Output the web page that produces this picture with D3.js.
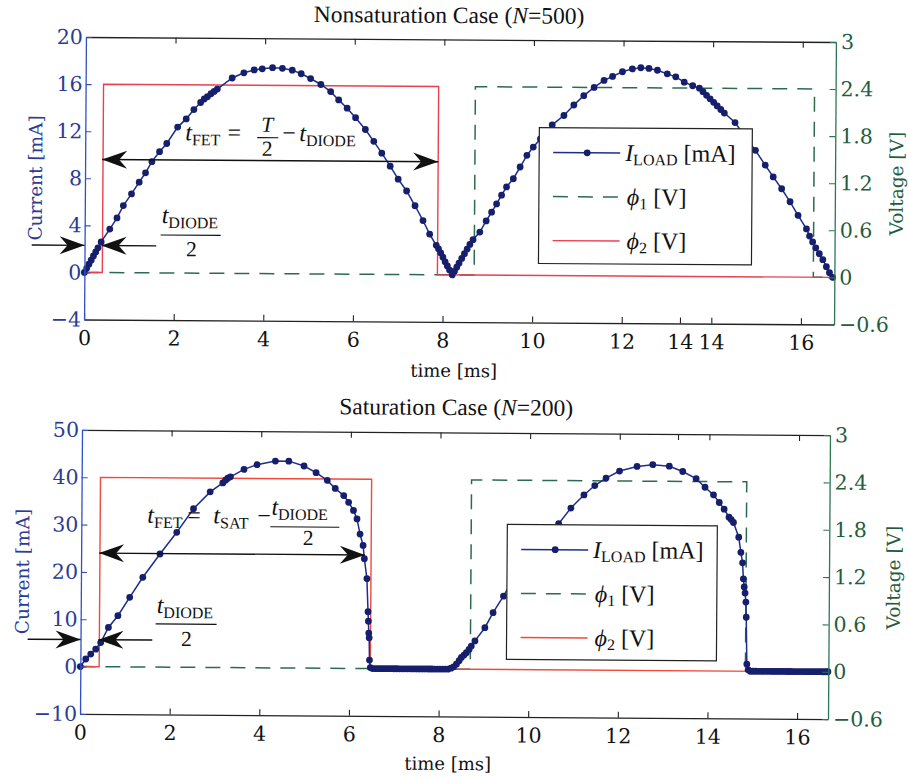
<!DOCTYPE html>
<html>
<head>
<meta charset="utf-8">
<script src="https://cdn.jsdelivr.net/npm/d3@7"></script>
<style>
  body { margin: 0; background: #fff; }
  text { font-family: "Liberation Serif", "Times New Roman", serif; }
  .cent { font-family: "DejaVu Serif", serif; }
</style>
</head>
<body>
<svg id="fig" width="909" height="778"></svg>
<script>
// ---- data ----
// Nonsaturation case (N=500): [time ms, current mA]
var nonsatLoad = [
  [0,0],[0.05,0.35],[0.1,0.7],[0.15,1.05],[0.2,1.4],[0.25,1.75],[0.3,2.1],[0.37,2.6],
  [0.56,3.7],[0.72,4.65],[0.86,5.7],[1.04,6.7],[1.21,7.7],[1.35,8.5],[1.49,9.45],
  [1.66,10.3],[1.82,11.0],[2.06,12.4],[2.25,13.1],[2.42,13.9],[2.57,14.5],[2.65,14.8],
  [2.72,15.0],[2.8,15.25],[2.87,15.45],[2.94,15.65],[3.27,16.6],[3.53,17.05],[3.76,17.3],
  [3.94,17.4],[4.17,17.5],[4.39,17.45],[4.61,17.3],[4.81,17.0],[5.02,16.6],[5.25,16.1],
  [5.47,15.5],[5.65,14.8],[5.84,14.1],[6.03,13.3],[6.25,12.3],[6.44,11.3],[6.62,10.3],
  [6.81,9.2],[6.99,8.1],[7.18,7.1],[7.37,5.85],[7.55,4.6],[7.7,3.45],[7.85,2.5],
  [7.9,2.2],[7.95,1.85],[8.0,1.5],[8.05,1.1],[8.1,0.75],[8.15,0.4],[8.21,0],
  [8.26,0.3],[8.31,0.65],[8.36,1.0],[8.42,1.4],[8.48,1.8],[8.54,2.2],[8.6,2.6],[8.67,3.0],
  [8.82,3.65],[8.96,4.6],[9.08,5.35],[9.19,6.05],[9.3,6.8],[9.41,7.5],[9.56,8.2],
  [9.71,9.2],[9.86,10.2],[10.0,10.9],[10.16,11.6],[10.42,12.8],[10.68,13.6],[10.9,14.5],
  [11.12,15.3],[11.35,16.0],[11.57,16.6],[11.76,16.95],[11.98,17.35],[12.2,17.6],
  [12.39,17.7],[12.57,17.65],[12.76,17.5],[12.98,17.2],[13.17,16.95],[13.36,16.5],
  [13.55,16.2],[13.7,16.0],[13.78,15.7],[13.86,15.4],[13.94,15.1],[14.02,14.8],[14.1,14.5],
  [14.18,14.2],[14.26,13.9],[14.5,13.1],[14.73,11.9],[14.96,10.75],[15.18,9.5],[15.36,8.5],
  [15.55,7.5],[15.74,6.4],[15.92,5.25],[16.11,4.1],[16.18,3.5],[16.25,3.0],[16.32,2.5],
  [16.4,2.0],[16.48,1.5],[16.56,0.9],[16.63,0.4],[16.7,0]
];
// [time ms, volts]
var nonsatPhi1 = [[0,0],[8.7,0],[8.7,2.4],[16.27,2.4],[16.27,0],[16.74,0]];
var nonsatPhi2 = [[0,0],[0.4,0],[0.4,2.4],[7.88,2.4],[7.88,0],[16.74,0]];

// Saturation case (N=200)
var satLoad = [
  [0,0],[0.12,1.6],[0.23,2.65],[0.34,3.7],[0.45,5.1],[0.62,8.3],[0.83,10.8],[1.09,14.7],
  [1.38,18.95],[1.76,23.9],[2.13,28.5],[2.5,33.5],[2.87,37.1],[3.15,39.0],[3.21,39.6],
  [3.26,40.0],[3.32,40.3],[3.62,41.9],[3.91,42.9],[4.32,43.7],[4.62,43.7],[4.96,42.7],
  [5.23,41.3],[5.48,39.7],[5.66,38.0],[5.85,36.5],[5.96,35.1],[6.07,33.4],[6.15,31.6],
  [6.22,28.4],[6.29,26.0],[6.32,23.2],[6.38,19],[6.41,12],[6.42,10],[6.43,7.5],[6.44,6.5],
  [6.45,1.8],[6.47,0.2],[6.52,0],[6.58,0],[6.64,0],[6.7,0],[6.76,0],[6.82,0],[6.88,0],
  [6.94,0],[7.0,0],[7.06,0],[7.12,0],[7.18,0],[7.24,0],[7.3,0],[7.36,0],[7.42,0],[7.48,0],
  [7.54,0],[7.6,0],[7.66,0],[7.72,0],[7.78,0],[7.84,0],[7.9,0],[7.96,0],[8.02,0],[8.08,0],
  [8.14,0],[8.2,0],[8.27,0.2],[8.33,0.5],[8.39,1.06],[8.45,1.8],[8.5,2.5],[8.56,3.0],
  [8.61,3.5],[8.67,4.2],[8.72,4.9],[8.8,6.0],[9.02,8.8],[9.2,12],[9.43,15.5],[9.7,20],
  [9.95,24],[10.3,28],[10.65,30.9],[10.92,34.2],[11.21,37.0],[11.45,39],[11.7,40.6],
  [12.0,42.1],[12.39,43.1],[12.74,43.5],[13.11,43.2],[13.41,42.1],[13.71,40.6],[13.91,38.8],
  [14.1,37.2],[14.23,35.6],[14.34,34.2],[14.45,32.5],[14.5,32],[14.55,31.4],[14.67,28.3],
  [14.72,25.1],[14.76,22.9],[14.78,19.5],[14.8,17.8],[14.82,16.5],[14.84,14.6],[14.85,11.4],
  [14.87,1.5],[14.9,0.3],[14.95,0],[15.01,0],[15.07,0],[15.13,0],[15.19,0],[15.25,0],
  [15.31,0],[15.37,0],[15.43,0],[15.49,0],[15.55,0],[15.61,0],[15.67,0],[15.73,0],
  [15.79,0],[15.85,0],[15.91,0],[15.97,0],[16.03,0],[16.09,0],[16.15,0],[16.21,0],
  [16.27,0],[16.33,0],[16.39,0],[16.45,0],[16.51,0],[16.57,0],[16.63,0],[16.68,0]
];
var satPhi1 = [[0,0],[8.7,0],[8.7,2.4],[14.84,2.4],[14.84,0],[16.69,0]];
var satPhi2 = [[0,0],[0.42,0],[0.42,2.4],[6.47,2.4],[6.47,0],[16.69,0]];

// ticks
var nonsatTimeTicks = [0,2,4,6,8,10,12,13.3,14,16];
var nonsatTimeLabels = ["0","2","4","6","8","10","12","14","14","16"];
var nonsatTopTicks = [2,4,6,8,10,12,14,16];
var satTimeTicks = [0,2,4,6,8,10,12,14,16];
var satTimeLabels = ["0","2","4","6","8","10","12","14","16"];
var satTopTicks = [2,4,6,8,10,12,13.3,14,16];
var nonsatCurrentTicks = [-4,0,4,8,12,16,20];
var satCurrentTicks = [-10,0,10,20,30,40,50];
var voltageTicks = [-0.6,0,0.6,1.2,1.8,2.4,3];

// ---- styles ----
var BLUE_TEXT = "#2b3c96", BLUE_AXIS = "#3150c4";
var GREEN_TEXT = "#1f5d40", GREEN_AXIS = "#2d7656";
var LOAD_LINE = "#1d2d8c", LOAD_DOT = "#161f6c";
var PHI1 = "#2c6b50";

var svg = d3.select("#fig");
var numFmt = d3.format("");

function arrowHead(g, tx, ty, dir) {
  var L = 25, W = 9, N = 17;
  var pts = [[tx, ty], [tx - dir * L, ty - W], [tx - dir * N, ty], [tx - dir * L, ty + W]];
  g.append("path").attr("d", "M" + pts.join("L") + "Z").attr("fill", "#111");
}

// numerator over denominator as one text element, with a bar
function fraction(g, cx, numY, denY, barX1, barX2, barY, num, sub, den) {
  var t = g.append("text").attr("font-size", 21.5).attr("fill", "#111");
  if (sub) {
    t.append("tspan").attr("x", barX1 + 1).attr("y", numY).attr("font-size", 24)
      .attr("font-style", "italic").text(num);
    t.append("tspan").attr("font-size", 16).attr("dy", 5).text(sub);
  } else {
    t.append("tspan").attr("x", cx).attr("y", numY).attr("text-anchor", "middle")
      .attr("font-style", "italic").text(num);
  }
  t.append("tspan").attr("x", cx).attr("y", denY).attr("text-anchor", "middle").text(den);
  g.append("line").attr("x1", barX1).attr("x2", barX2).attr("y1", barY).attr("y2", barY)
    .attr("stroke", "#111").attr("stroke-width", 1.1);
}

function drawPanel(p) {
  var cx = (p.left + p.right) / 2, cy = (p.top + p.bottom) / 2;
  var g = svg.append("g").attr("transform", "rotate(" + p.angle + "," + cx + "," + cy + ")");

  var x = d3.scaleLinear().domain(p.xDomain).range([p.left, p.right]);
  var yI = d3.scaleLinear().domain(p.iDomain).range([p.bottom, p.top]);
  var yV = d3.scaleLinear().domain([-0.6, 3]).range([p.bottom, p.top]);

  // title
  var title = g.append("text").attr("x", p.titleX).attr("y", p.titleY)
    .attr("text-anchor", "middle").attr("font-size", 23.5).attr("fill", "#111");
  title.append("tspan").text(p.titleA);
  title.append("tspan").attr("font-style", "italic").text("N");
  title.append("tspan").text(p.titleB);

  // voltage traces
  var vLine = d3.line().x(function(d){ return x(d[0]); }).y(function(d){ return yV(d[1]); });
  g.append("path").datum(p.phi1).attr("d", vLine).attr("fill", "none")
    .attr("stroke", PHI1).attr("stroke-width", 1.5).attr("stroke-dasharray", "15,10");
  g.append("path").datum(p.phi2).attr("d", vLine).attr("fill", "none")
    .attr("stroke", p.red).attr("stroke-width", 1.4);

  // load current
  var iLine = d3.line().x(function(d){ return x(d[0]); }).y(function(d){ return yI(d[1]); });
  g.append("path").datum(p.load).attr("d", iLine).attr("fill", "none")
    .attr("stroke", LOAD_LINE).attr("stroke-width", 1.5);
  g.append("g").selectAll("circle").data(p.load).join("circle")
    .attr("cx", function(d){ return x(d[0]); })
    .attr("cy", function(d){ return yI(d[1]); })
    .attr("r", 3.4).attr("fill", LOAD_DOT);

  // axes
  function styleAxis(sel, col, lineCol) {
    sel.attr("font-family", null).attr("font-size", 20.5);
    sel.select(".domain").attr("stroke", lineCol).attr("stroke-width", 1.3);
    sel.selectAll(".tick line").attr("stroke", lineCol).attr("stroke-width", 1.1);
    sel.selectAll(".tick text").attr("fill", col).attr("class", "cent");
  }
  var bottomAx = g.append("g").attr("transform", "translate(0," + p.bottom + ")")
    .call(d3.axisBottom(x).tickValues(p.xTicks)
      .tickFormat(function(d, i){ return p.xLabels[i]; })
      .tickSizeInner(-6).tickSizeOuter(0).tickPadding(11));
  styleAxis(bottomAx, "#111", "#222");
  var topAx = g.append("g").attr("transform", "translate(0," + p.top + ")")
    .call(d3.axisTop(x).tickValues(p.topTicks).tickFormat("").tickSizeInner(-6).tickSizeOuter(0));
  styleAxis(topAx, "#111", "#222");
  var leftAx = g.append("g").attr("transform", "translate(" + p.left + ",0)")
    .call(d3.axisLeft(yI).tickValues(p.iTicks).tickFormat(numFmt)
      .tickSizeInner(-6).tickSizeOuter(0).tickPadding(3));
  styleAxis(leftAx, BLUE_TEXT, BLUE_AXIS);
  var rightAx = g.append("g").attr("transform", "translate(" + p.right + ",0)")
    .call(d3.axisRight(yV).tickValues(voltageTicks).tickFormat(numFmt)
      .tickSizeInner(-6).tickSizeOuter(0).tickPadding(5));
  styleAxis(rightAx, GREEN_TEXT, GREEN_AXIS);

  // axis labels
  g.append("text").attr("class", "cent").attr("transform", "translate(" + p.iLabelX + "," + cy + ") rotate(-90)")
    .attr("text-anchor", "middle").attr("font-size", 18.5).attr("fill", BLUE_TEXT).text("Current [mA]");
  g.append("text").attr("class", "cent").attr("transform", "translate(" + p.vLabelX + "," + cy + ") rotate(-90)")
    .attr("text-anchor", "middle").attr("font-size", 18.5).attr("fill", GREEN_TEXT).text("Voltage [V]");
  g.append("text").attr("class", "cent").attr("x", p.timeX).attr("y", p.timeY).attr("text-anchor", "middle")
    .attr("font-size", 18).attr("fill", "#111").text("time [ms]");

  // annotations: t_FET double arrow and t_DIODE/2 arrows
  var ann = g.append("g");
  var ya = yI(p.fetLevel);
  ann.append("line").attr("x1", x(p.fetFrom)).attr("x2", x(p.fetTo)).attr("y1", ya).attr("y2", ya)
    .attr("stroke", "#111").attr("stroke-width", 1.4);
  arrowHead(ann, x(p.fetFrom), ya, -1);
  arrowHead(ann, x(p.fetTo), ya, 1);
  var yd = yI(p.diodeLevel);
  ann.append("line").attr("x1", x(-1.18)).attr("x2", x(0)).attr("y1", yd).attr("y2", yd)
    .attr("stroke", "#111").attr("stroke-width", 1.4);
  arrowHead(ann, x(0), yd, 1);
  ann.append("line").attr("x1", x(1.6)).attr("x2", x(p.fetFrom)).attr("y1", yd).attr("y2", yd)
    .attr("stroke", "#111").attr("stroke-width", 1.4);
  arrowHead(ann, x(p.fetFrom), yd, -1);
  p.mathText(ann);

  // legend
  var L = p.legend;
  var lg = g.append("g");
  lg.append("rect").attr("x", L.x).attr("y", L.y).attr("width", L.w).attr("height", L.h)
    .attr("fill", "#fff").attr("stroke", "#222").attr("stroke-width", 1.2);
  var rows = [L.y + 25, L.y + 69, L.y + 113];
  lg.append("line").attr("x1", L.x + 14).attr("x2", L.x + 81).attr("y1", rows[0]).attr("y2", rows[0])
    .attr("stroke", LOAD_LINE).attr("stroke-width", 1.5);
  lg.append("circle").attr("cx", L.x + 48).attr("cy", rows[0]).attr("r", 3.4).attr("fill", LOAD_DOT);
  lg.append("line").attr("x1", L.x + 14).attr("x2", L.x + 81).attr("y1", rows[1]).attr("y2", rows[1])
    .attr("stroke", PHI1).attr("stroke-width", 1.5).attr("stroke-dasharray", "15,10");
  lg.append("line").attr("x1", L.x + 14).attr("x2", L.x + 81).attr("y1", rows[2]).attr("y2", rows[2])
    .attr("stroke", p.red).attr("stroke-width", 1.4);
  var t0 = lg.append("text").attr("x", L.x + 86).attr("y", rows[0] + 8).attr("font-size", 24).attr("fill", "#111");
  t0.append("tspan").attr("font-style", "italic").text("I");
  t0.append("tspan").attr("font-size", 16).attr("dy", 4).text("LOAD");
  t0.append("tspan").attr("dy", -4).text(" [mA]");
  [1, 2].forEach(function(k) {
    var t = lg.append("text").attr("x", L.x + 88).attr("y", rows[k] + 8).attr("font-size", 24).attr("fill", "#111");
    t.append("tspan").attr("font-style", "italic").text("\u03D5");
    t.append("tspan").attr("font-size", 16).attr("dy", 4).text(String(k));
    t.append("tspan").attr("dy", -4).text(" [V]");
  });
}

drawPanel({
  angle: 0.38, left: 85, right: 835, top: 39.5, bottom: 322,
  xDomain: [0, 16.74], iDomain: [-4, 20], iTicks: nonsatCurrentTicks,
  xTicks: nonsatTimeTicks, xLabels: nonsatTimeLabels, topTicks: nonsatTopTicks,
  load: nonsatLoad, phi1: nonsatPhi1, phi2: nonsatPhi2, red: "#e8414f",
  titleA: "Nonsaturation Case (", titleB: "=500)", titleX: 448, titleY: 23,
  iLabelX: 42, vLabelX: 903, timeX: 455, timeY: 377,
  fetLevel: 9.6, fetFrom: 0.38, fetTo: 7.88, diodeLevel: 2.3,
  legend: { x: 539, y: 127, w: 213, h: 136 },
  mathText: function(a) {
    var t = a.append("text").attr("x", 185).attr("y", 142).attr("font-size", 24).attr("fill", "#111");
    t.append("tspan").attr("font-style", "italic").text("t");
    t.append("tspan").attr("font-size", 16).attr("dy", 5).text("FET");
    t.append("tspan").attr("dy", -5).attr("dx", 7).text("=");
    fraction(a, 267, 133, 157, 257, 278, 139, "T", null, "2");
    var m = a.append("text").attr("x", 282).attr("y", 142).attr("font-size", 24).attr("fill", "#111");
    m.append("tspan").text("\u2212");
    m.append("tspan").attr("x", 299).attr("font-style", "italic").text("t");
    m.append("tspan").attr("font-size", 16).attr("dy", 5).text("DIODE");
    fraction(a, 192, 225, 258, 161, 221, 237, "t", "DIODE", "2");
  }
});

drawPanel({
  angle: 0.4, left: 81, right: 829, top: 432.5, bottom: 716.5,
  xDomain: [0, 16.69], iDomain: [-10, 50], iTicks: satCurrentTicks,
  xTicks: satTimeTicks, xLabels: satTimeLabels, topTicks: satTopTicks,
  load: satLoad, phi1: satPhi1, phi2: satPhi2, red: "#ef4a3a",
  titleA: "Saturation Case (", titleB: "=200)", titleX: 455, titleY: 415,
  iLabelX: 29, vLabelX: 900, timeX: 449, timeY: 770,
  fetLevel: 24, fetFrom: 0.4, fetTo: 6.33, diodeLevel: 5.7,
  legend: { x: 507, y: 524, w: 210, h: 135 },
  mathText: function(a) {
    var t = a.append("text").attr("x", 147).attr("y", 525).attr("font-size", 24).attr("fill", "#111");
    t.append("tspan").attr("font-style", "italic").text("t");
    t.append("tspan").attr("font-size", 16).attr("dy", 5).text("FET");
    t.append("tspan").attr("dy", -5).attr("x", 187).text("=");
    t.append("tspan").attr("x", 213).attr("font-style", "italic").text("t");
    t.append("tspan").attr("font-size", 16).attr("dy", 5).text("SAT");
    t.append("tspan").attr("dy", -5).attr("x", 257).text("\u2212");
    fraction(a, 308, 516, 546, 270, 339, 528, "t", "DIODE", "2");
    fraction(a, 187, 615, 648, 156, 217, 626, "t", "DIODE", "2");
  }
});
</script>
</body>
</html>
